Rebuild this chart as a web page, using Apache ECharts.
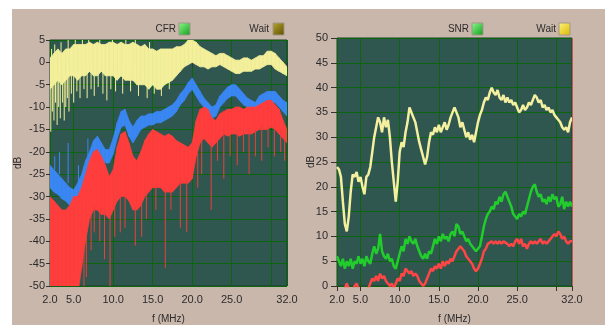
<!DOCTYPE html>
<html>
<head>
<meta charset="utf-8">
<script src="https://cdn.jsdelivr.net/npm/echarts@6/dist/echarts.min.js"></script>
<style>
  html, body { margin: 0; padding: 0; background: #ffffff; }
  #chart { position: absolute; left: 12px; top: 9px; width: 593px; height: 316px; }
</style>
</head>
<body>
<div id="chart"></div>
<script>
// left panel (CFR), sampled every 0.5 MHz, values are band edges in dB
const freqL = [2, 2.5, 3, 3.5, 4, 4.5, 5, 5.5, 6, 6.5, 7, 7.5, 8, 8.5, 9, 9.5, 10, 10.5, 11, 11.5,
  12, 12.5, 13, 13.5, 14, 14.5, 15, 15.5, 16, 16.5, 17, 17.5, 18, 18.5, 19, 19.5, 20, 20.5, 21, 21.5,
  22, 22.5, 23, 23.5, 24, 24.5, 25, 25.5, 26, 26.5, 27, 27.5, 28, 28.5, 29, 29.5, 30, 30.5, 31, 31.5, 32];

const yellowHi = [1, 2, 3, 2, 3, 3, 4, 4, 4, 4,
  4.5, 4, 4.5, 4, 4, 4.5, 4.5, 4, 4.5, 4,
  4, 4.5, 4, 3.5, 4, 3, 3, 2.5, 3, 3,
  3, 3, 3.5, 3.5, 4, 5, 5, 4.5, 3.5, 3,
  2.5, 2, 1.5, 2, 2, 1.5, 1, 0.5, 0.5, 1,
  1, 0.5, 1, 1.5, 1.5, 2.5, 2.5, 2, 1, 0,
  -1];
const yellowLo = [-6, -5, -4, -5, -4, -3, -3, -4, -3, -3,
  -2, -3, -3, -2, -3, -3, -3, -4, -3, -4,
  -4, -4, -5, -5, -5, -6, -5, -6, -6, -5,
  -4.5, -4, -3, -2, -1, -0.5, 0, -0.5, -1, -1,
  -1.5, -1, -1, -0.5, -1, -1.5, -2, -2.5, -2.5, -2,
  -2, -2, -1.5, -1.5, -1, -0.5, -0.5, -1.5, -2, -2.5,
  -3];

const blueHi = [-23, -24, -25, -26, -27, -28, -28.5, -27, -25, -22,
  -20, -17.5, -16.5, -18, -19.5, -19.5, -17, -13.5, -11, -10.5,
  -13, -14.5, -13, -12, -12, -11.5, -11.5, -11, -11, -10.5,
  -10, -9.5, -8.5, -7, -6, -4.5, -3.5, -5, -6.5, -8,
  -9, -10, -9.5, -7.5, -6.5, -5.5, -5, -5, -6, -7,
  -8, -8.5, -9, -7.5, -7, -6.5, -6.5, -6.5, -7.5, -8.5,
  -9];
const blueLo = [-28, -29, -29.5, -30.5, -31, -32, -32.5, -31, -29, -26,
  -24, -21, -20, -21.5, -22.5, -22.5, -20.5, -17, -14.5, -14,
  -16.5, -18, -16.5, -15, -14.5, -14, -14, -13.5, -13.5, -13,
  -12.5, -12, -11, -9.5, -8.5, -7, -6, -7.5, -9, -10,
  -11, -12.5, -12, -10, -9, -8, -7.5, -7.5, -8.5, -9.5,
  -10, -10.5, -11.5, -10, -9.5, -9, -9, -9, -10, -11,
  -12];

const redHi = [-30, -31, -32, -33, -33, -32, -30, -30, -28, -25,
  -22, -20, -19.5, -21, -23, -25.5, -24, -19, -16, -15.5,
  -18, -21, -22, -20, -17.5, -16, -15, -15.5, -16, -16.5,
  -16, -16.5, -17.5, -18, -18.5, -19, -18, -13, -10.5, -10,
  -10.5, -12.5, -13, -11.5, -11, -10.5, -10.5, -10, -10, -10.5,
  -10, -10, -10, -9.5, -9, -8.5, -8.5, -9.5, -10.5, -13,
  -15];
const redLo = [-52, -52, -52, -52, -52, -52, -52, -52, -46, -40,
  -35, -33, -33, -34, -34, -35, -33, -31, -30, -30,
  -31, -33, -33, -32, -30, -29, -28, -28, -28, -29,
  -29, -29, -28, -27, -27, -27, -26, -21, -18, -17,
  -18, -19, -18, -17, -16, -16.5, -16, -16, -16.5, -16,
  -16, -16, -15.5, -15, -15, -15, -14.5, -15, -16, -17,
  -18];

// spikes: [f, from dB, to dB]
const yellowSpikes = [
  [2.1, -4, -15.5], [2.3, -4, -11], [2.5, -4, -13], [2.7, -3, -9], [2.9, -3, -14], [3.1, -3, -10],
  [3.3, -3, -12.5], [3.6, -3, -9], [3.8, -3, -13], [4.0, -3, -10], [4.2, -2, -8], [4.4, -2, -11],
  [4.7, -2, -7], [5.0, -2, -9], [5.4, -2, -6.5], [5.8, -2, -8], [6.3, -2, -6], [6.7, -2, -8],
  [7.2, -2, -6], [7.6, -2, -7.5], [8.1, -2, -5.5], [8.7, -2, -7], [9.2, -2, -8.5], [9.7, -2, -6],
  [10.3, -2, -6.5], [11.2, -2, -7], [12.2, -3, -6.5], [13.2, -3, -7.5], [14.3, -4, -8], [15.2, -4, -7],
  [16.1, -4, -7.5], [17.1, -3, -6],
  [2.2, 0, 3], [2.6, 0, 4], [3.4, 0, 4.5], [4.3, 0, 5], [5.2, 0, 5], [6.1, 0, 5], [6.9, 0, 5],
  [8.3, 0, 5], [9.9, 0, 5], [11.6, 0, 5], [12.8, 0, 5], [14.6, 0, 4.5]
];
const blueSpikes = [[2.6, -24, -21], [3.2, -25, -20], [4.3, -27, -18], [5.6, -27, -23], [6.8, -21, -17]];
const redSpikes = [
  [6.3, -40, -50], [6.6, -38, -48], [7.2, -34, -42], [7.6, -32, -38], [8.3, -33, -40], [8.9, -33, -44],
  [9.6, -34, -50], [10.2, -32, -39], [10.9, -30, -38], [11.5, -30, -37], [12.8, -32, -41], [13.6, -31, -39],
  [14.2, -29, -35], [15.4, -27, -33], [16.6, -28, -46], [17.3, -28, -33], [18.5, -26, -37], [19.3, -26, -38],
  [20.7, -20, -28], [21.2, -17, -25], [22.4, -18, -33], [23.2, -17, -22], [24.0, -15, -26], [24.8, -16, -21],
  [25.7, -15, -23], [26.5, -15, -20], [27.2, -15, -25], [28.0, -15, -21], [28.8, -14, -22], [29.6, -14, -19],
  [30.4, -14, -21], [31.2, -15, -20], [31.7, -16, -22]
];

// right panel (SNR), sampled every 0.25 MHz
const freqR = [2, 2.25, 2.5, 2.75, 3, 3.25, 3.5, 3.75, 4, 4.25, 4.5, 4.75, 5, 5.25, 5.5, 5.75,
  6, 6.25, 6.5, 6.75, 7, 7.25, 7.5, 7.75, 8, 8.25, 8.5, 8.75, 9, 9.25, 9.5, 9.75,
  10, 10.25, 10.5, 10.75, 11, 11.25, 11.5, 11.75, 12, 12.25, 12.5, 12.75, 13, 13.25, 13.5, 13.75,
  14, 14.25, 14.5, 14.75, 15, 15.25, 15.5, 15.75, 16, 16.25, 16.5, 16.75, 17, 17.25, 17.5, 17.75,
  18, 18.25, 18.5, 18.75, 19, 19.25, 19.5, 19.75, 20, 20.25, 20.5, 20.75, 21, 21.25, 21.5, 21.75,
  22, 22.25, 22.5, 22.75, 23, 23.25, 23.5, 23.75, 24, 24.25, 24.5, 24.75, 25, 25.25, 25.5, 25.75,
  26, 26.25, 26.5, 26.75, 27, 27.25, 27.5, 27.75, 28, 28.25, 28.5, 28.75, 29, 29.25, 29.5, 29.75,
  30, 30.25, 30.5, 30.75, 31, 31.25, 31.5, 31.75, 32];

const snrWait = [24, 23.5, 22, 17, 12.5, 11, 14, 19,
  22.5, 22, 23, 21, 22, 20, 18.5, 22,
  22.5, 24, 27, 30, 32, 34, 33, 31,
  34, 32, 33.5, 30, 25, 21, 17, 21,
  27, 29, 28, 31, 33, 36, 36, 34,
  33, 31, 29, 27.5, 26, 24.5, 26, 29,
  31, 30.5, 32, 31, 32.5, 31, 32, 33,
  31.5, 32.5, 34, 35, 36, 35, 34, 32,
  33, 31.5, 30, 31, 29.5, 30.5, 29, 31,
  33, 34.5, 35.5, 37, 38, 37.5, 39, 40,
  39, 38.5, 39.5, 38, 37.5, 38.5, 37, 38,
  37, 37.5, 36.5, 37, 36, 35, 35.5, 36.5,
  35.5, 36, 37, 36.5, 37.5, 38.5, 38, 37,
  37.5, 36, 36.5, 35.5, 36, 35, 35.5, 34.5,
  34, 33.5, 33, 32, 31.5, 32, 31, 33,
  34];
const snrGreen = [6, 5, 4, 5.5, 3.5, 5, 4, 5.5,
  3.5, 5, 4.5, 6, 4.5, 5.5, 4, 6,
  5, 4.5, 6.5, 8, 6.5, 7.5, 10.5, 7,
  6, 5.5, 6.5, 5, 5.5, 4, 3.5, 5,
  6.5, 8, 7, 9.5, 8.5, 10, 9, 8.5,
  9.5, 8, 7, 6, 5.5, 6.5, 5.5, 7,
  6.5, 8, 9.5, 8.5, 10, 9, 10.5, 9.5,
  10, 9, 10.5, 11, 10, 12.5, 12, 10.5,
  11, 10, 9, 9.5, 8.5, 8, 7.5, 7,
  7, 8, 10, 12, 13.5, 14.5, 15, 16,
  15.5, 17, 16.5, 18, 17, 18.5, 19, 18,
  17, 16, 14.5, 14, 13.5, 14.5, 14, 15,
  14.5, 16, 17.5, 19, 20, 20.5, 19, 18,
  18.5, 17, 17.5, 16.5, 18, 17, 18.5, 17.5,
  18, 16, 16.5, 18, 15.5, 17, 16, 17,
  16];
const snrRed = [-2, -2, -1.5, -1, -0.5, 0.5, -0.5, -1.5,
  -1, 0, 0.5, -0.5, -1.5, -2, -1.5, -1,
  -0.5, 0.5, 1.5, 1, 2, 1, 2.5, 1.5,
  2, 1, 0.5, 0, 0.5, -0.5, 0.5, 1.5,
  1, 2.5, 2, 3.5, 3, 2.5, 3, 2,
  2.5, 2, 1, 0.5, 0, 0.5, 1.5, 2.5,
  3.5, 3, 4, 3.5, 4.5, 3.5, 5, 4,
  5, 4.5, 5.5, 5, 6, 7, 7.5, 8,
  7.5, 7, 6, 5.5, 5, 4.5, 3.5, 3,
  3.5, 4.5, 5.5, 7, 7.5, 8.5, 8.5, 9,
  8.5, 9, 8.5, 9, 8.5, 9, 9, 8.5,
  8, 8.5, 8, 9, 9.5, 8.5, 9.5, 8,
  8.5, 7.5, 8.5, 9, 8.5, 9, 8.5, 9,
  9.5, 8.5, 9, 8.5, 9, 9.5, 10, 10.5,
  10, 11, 10.5, 9.5, 10, 9, 8.5, 9,
  9];

const FONT = '"Liberation Sans", Arial, sans-serif';
const TEXT = '#2b2b2b';
const PLOT_BG = '#2f574f';
const GRID = '#0b650f';

function freqAxis(gridIndex) {
  return {
    type: 'value',
    gridIndex,
    min: 2,
    max: 32,
    splitNumber: 6,
    name: 'f (MHz)',
    nameLocation: 'middle',
    nameGap: 28,
    nameMoveOverlap: false,
    nameTextStyle: { color: TEXT, fontSize: 10, fontFamily: FONT },
    axisLine: { show: false },
    axisTick: { show: true, length: 5, lineStyle: { color: '#333333' } },
    axisLabel: {
      color: TEXT,
      fontSize: 11,
      fontFamily: FONT,
      margin: 8,
      formatter: v => (v === 30 ? '' : v.toFixed(1)),
    },
    splitLine: { show: true, lineStyle: { color: GRID, width: 1 } },
  };
}

function dbAxis(gridIndex, min, max, nameGap, tickLen, margin) {
  return {
    type: 'value',
    gridIndex,
    min,
    max,
    interval: 5,
    name: 'dB',
    nameLocation: 'middle',
    nameGap,
    nameMoveOverlap: false,
    nameTextStyle: { color: TEXT, fontSize: 10, fontFamily: FONT },
    axisLine: { show: false },
    axisTick: { show: true, length: tickLen, lineStyle: { color: '#333333' } },
    axisLabel: { color: TEXT, fontSize: 11, fontFamily: FONT, margin },
    splitLine: { show: true, lineStyle: { color: GRID, width: 1 } },
  };
}

// band between lo and hi: one filled quad per sample step
function band(lo, hi, color, idx) {
  const segs = freqL.slice(1).map((f, i) => [freqL[i], lo[i], hi[i], f, lo[i + 1], hi[i + 1]]);
  return {
    type: 'custom', xAxisIndex: idx, yAxisIndex: idx, clip: true, silent: true,
    data: segs, encode: { x: [0, 3], y: [1, 2, 4, 5] },
    renderItem(params, api) {
      const a = api.coord([api.value(0), api.value(2)]);
      const b = api.coord([api.value(3), api.value(5)]);
      const c = api.coord([api.value(3), api.value(4)]);
      const d = api.coord([api.value(0), api.value(1)]);
      return {
        type: 'polygon',
        shape: { points: [a, b, c, d] },
        style: { fill: color, stroke: color, lineWidth: 0.8 },
      };
    },
  };
}

function spikes(data, color, idx) {
  return {
    type: 'custom', xAxisIndex: idx, yAxisIndex: idx, clip: true, silent: true,
    data, encode: { x: 0, y: [1, 2] },
    renderItem(params, api) {
      const a = api.coord([api.value(0), api.value(1)]);
      const b = api.coord([api.value(0), api.value(2)]);
      return {
        type: 'line',
        shape: { x1: a[0], y1: a[1], x2: b[0], y2: b[1] },
        style: { stroke: color, lineWidth: 1 },
      };
    },
  };
}

function trace(values, color, idx, extra) {
  return Object.assign({
    type: 'line', xAxisIndex: idx, yAxisIndex: idx, symbol: 'none', silent: true,
    lineStyle: { color, width: 2.5 },
    data: freqR.map((f, i) => [f, values[i]]),
  }, extra || {});
}

function legendItem(label, textRight, boxX, c1, c2) {
  return {
    type: 'group',
    children: [
      {
        type: 'text', x: textRight, y: 20,
        style: { text: label, fill: TEXT, fontSize: 10, fontFamily: FONT, align: 'right', verticalAlign: 'middle' },
      },
      {
        type: 'rect', shape: { x: boxX, y: 14, width: 11, height: 12 },
        style: {
          fill: { type: 'linear', x: 0, y: 0, x2: 1, y2: 1, colorStops: [{ offset: 0, color: c1 }, { offset: 1, color: c2 }] },
          stroke: '#a39589', lineWidth: 1,
        },
      },
    ],
  };
}

const chart = echarts.init(document.getElementById('chart'));
chart.setOption({
  animation: false,
  backgroundColor: '#cab7ac',
  grid: [
    { left: 38, top: 31, width: 237, height: 246, outerBoundsMode: 'none', show: true, backgroundColor: PLOT_BG, borderColor: '#1d3d2c', borderWidth: 1 },
    { left: 325, top: 29, width: 235, height: 248, outerBoundsMode: 'none', show: true, backgroundColor: PLOT_BG, borderColor: '#1d3d2c', borderWidth: 1 },
  ],
  xAxis: [freqAxis(0), freqAxis(1)],
  yAxis: [dbAxis(0, -50, 5, 27, 4, 5), dbAxis(1, 0, 50, 21, 6, 9)],
  graphic: [
    legendItem('CFR', 164, 167, '#8dfb8d', '#0e9c18'),
    legendItem('Wait', 257, 261, '#b8a82e', '#5a4c00'),
    legendItem('SNR', 457, 460, '#8dfb8d', '#0e9c18'),
    legendItem('Wait', 544, 547, '#fff47e', '#d9b800'),
  ],
  series: [
    band(blueLo, blueHi, '#3a86f2', 0),
    spikes(blueSpikes, '#3a86f2', 0),
    band(redLo, redHi, '#ff3d3d', 0),
    spikes(redSpikes, '#e8403a', 0),
    band(yellowLo, yellowHi, '#f3ef9a', 0),
    spikes(yellowSpikes, '#f3ef9a', 0),
    trace(snrRed, '#ff4545', 1, {
      markLine: {
        silent: true, symbol: 'none', label: { show: false },
        lineStyle: { color: '#c25a52', width: 1, type: 'solid' },
        data: [{ xAxis: 32 }],
      },
    }),
    trace(snrGreen, '#22cc2c', 1),
    trace(snrWait, '#f4f0a0', 1),
  ],
});
</script>
</body>
</html>
